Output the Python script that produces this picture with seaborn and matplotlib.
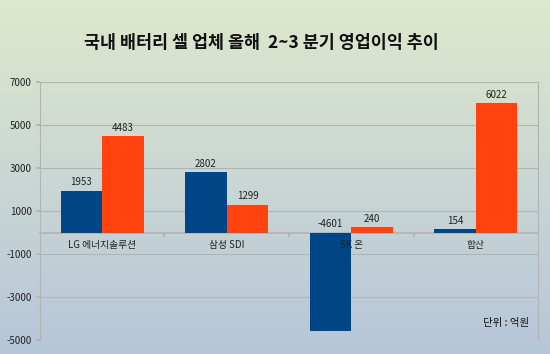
import numpy as np
import pandas as pd
import matplotlib
matplotlib.use("Agg")
import matplotlib.pyplot as plt
from matplotlib.colors import LinearSegmentedColormap
import seaborn as sns

companies = ["LG 에너지솔루션", "삼성 SDI", "SK 온", "합산"]
q2 = [1953, 2802, -4601, 154]
q3 = [4483, 1299, 240, 6022]
quarters = ["2분기", "3분기"]
yticks = [-5000, -3000, -1000, 1000, 3000, 5000, 7000]

df = pd.DataFrame({
    "업체": companies * 2,
    "분기": [quarters[0]] * 4 + [quarters[1]] * 4,
    "영업이익": q2 + q3,
})

sns.set_theme(style="white")
plt.rcParams["font.family"] = ["Noto Sans CJK KR", "DejaVu Sans"]

fig = plt.figure(figsize=(5.5, 3.54), dpi=100)

# gradient background
bg = fig.add_axes([0, 0, 1, 1], zorder=-10)
cmap = LinearSegmentedColormap.from_list("bg", ["#dee8cc", "#b6c6da"])
bg.imshow(np.linspace(0, 1, 256).reshape(-1, 1), aspect="auto", cmap=cmap,
          extent=[0, 1, 0, 1])
bg.axis("off")

ax = fig.add_axes([0.0727, 0.0395, 0.9055, 0.7285])
ax.set_facecolor("none")

sns.barplot(data=df, x="업체", y="영업이익", hue="분기", order=companies,
            palette=["#004586", "#ff420e"], width=0.67, gap=0,
            legend=False, ax=ax, zorder=3, edgecolor="none", saturation=1)

ax.set_ylim(-5000, 7000)
ax.set_xlim(-0.5, 3.5)
ax.set_yticks(yticks)
ax.set_yticklabels([str(t) for t in yticks], fontsize=7, color="#222222")
ax.yaxis.grid(True, color="#b3b3b3", linewidth=0.8, zorder=0)
ax.set_xlabel("")
ax.set_ylabel("")

# x axis drawn at zero
ax.spines["bottom"].set_position(("data", 0))
ax.spines["bottom"].set_color("#b3b3b3")
for s in ["left", "right", "top"]:
    ax.spines[s].set_color("#b3b3b3")
    ax.spines[s].set_linewidth(0.8)
ax.spines["top"].set_visible(False)
ax.tick_params(axis="y", length=3, color="#b3b3b3", pad=3, left=True)
ax.set_xticks([0.5, 1.5, 2.5])
ax.set_xticklabels([])
ax.tick_params(axis="x", length=3, color="#b3b3b3", bottom=True)

# category labels drawn over the bars
for i, name in enumerate(companies):
    ax.text(i, -560, name, ha="center", va="center", fontsize=7,
            color="#222222", zorder=6)

# value labels
for patch, v in zip(ax.patches, q2 + q3):
    x = patch.get_x() + patch.get_width() / 2
    ax.text(x, max(v, 0) + 150, str(v), ha="center", va="bottom",
            fontsize=7, color="#222222", zorder=4)

fig.text(0.475, 0.878, "국내 배터리 셀 업체 올해  2~3 분기 영업이익 추이",
         ha="center", va="center", fontsize=12.5, fontweight="bold",
         color="#111111")
ax.text(3.43, -4200, "단위 : 억원", ha="right", va="center", fontsize=7.5,
        color="#111111")

fig.savefig("out.png", dpi=100)
